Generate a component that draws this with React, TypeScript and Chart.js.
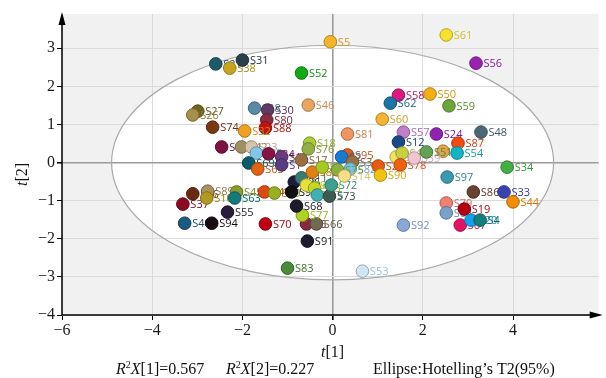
import React, { useEffect, useRef } from "react";
import { Chart, registerables } from "chart.js";

Chart.register(...registerables);

// ---- data ----
const sampleNames = [
  "S5", "S61", "S56", "S21", "S38", "S31", "S52", "S58", "S50", "S62",
  "S59", "S60", "S46", "S27", "S26", "S74", "S28", "S30", "S80", "S88",
  "S32", "S81", "S57", "S24", "S48", "S12", "S87", "S7", "S54", "S34",
  "S97", "S86", "S33", "S44", "S79", "S64", "S19", "S67", "S20", "S4",
  "S92", "S53", "S83", "S91", "S70", "S6", "S66", "S77", "S68", "S55",
  "S40", "S94", "S37", "S36", "S89", "S10", "S45", "S63", "S47", "S49",
  "S96", "S98", "S11", "S99", "S93", "S15", "S73", "S72", "S43", "S42",
  "S23", "S22", "S84", "S13", "S69", "S65", "S1", "S17", "S85", "S8",
  "S18", "S76", "S95", "S2", "S3", "S82", "S75", "S14", "S29", "S90",
  "S71", "S41", "S78", "S39", "S51"
];
const t1Scores = [
  -0.05, 2.52, 3.18, -2.59, -2.28, -2.0, -0.69, 1.46, 2.16, 1.28,
  2.58, 1.1, -0.54, -2.99, -3.1, -2.66, -1.73, -1.44, -1.46, -1.49,
  -1.95, 0.33, 1.57, 2.3, 3.29, 1.46, 2.78, 2.45, 2.76, 3.87,
  2.54, 3.12, 3.8, 4.0, 2.52, 2.52, 2.92, 2.83, 3.07, 3.27,
  1.57, 0.66, -1.0, -0.56, -1.49, -0.58, -0.36, -0.67, -0.8, -2.33,
  -3.28, -2.68, -3.32, -3.1, -2.77, -2.79, -2.13, -2.17, -1.51, -1.29,
  -0.85, -0.91, -0.69, -0.58, -0.4, -0.34, -0.07, -0.03, -2.46, -2.02,
  -1.8, -1.69, -1.42, -1.13, -1.86, -1.66, -1.13, -0.69, -0.45, -0.23,
  -0.51, -0.54, 0.33, 0.2, 0.44, 0.39, 0.11, 0.26, 1.01, 1.06,
  1.41, 1.54, 1.5, 1.81, 2.08
];
const t2Scores = [
  3.17, 3.35, 2.61, 2.59, 2.48, 2.69, 2.35, 1.77, 1.8, 1.56,
  1.49, 1.14, 1.51, 1.35, 1.25, 0.93, 1.43, 1.38, 1.12, 0.91,
  0.83, 0.75, 0.8, 0.75, 0.8, 0.54, 0.51, 0.3, 0.25, -0.12,
  -0.38, -0.77, -0.77, -1.03, -1.06, -1.32, -1.22, -1.64, -1.51, -1.51,
  -1.64, -2.85, -2.77, -2.06, -1.61, -1.61, -1.61, -1.38, -1.14, -1.3,
  -1.59, -1.59, -1.09, -0.82, -0.75, -0.93, -0.77, -0.93, -0.77, -0.8,
  -0.51, -0.77, -0.4, -0.59, -0.67, -0.85, -0.88, -0.59, 0.41, 0.41,
  0.41, 0.25, 0.23, 0.15, -0.01, -0.17, -0.06, 0.07, -0.25, -0.12,
  0.51, 0.36, 0.2, 0.15, 0.02, -0.17, -0.19, -0.35, -0.09, -0.33,
  0.15, 0.25, -0.06, 0.12, 0.28
];
const sampleColors = [
  "#F5B52A", "#F4E22C", "#9A22B0", "#1D5A68", "#C9A51C", "#283F4C", "#14A814", "#E0167E", "#F4AE14", "#1A74A4",
  "#6AA63A", "#F4B431", "#E8A55E", "#6E641A", "#A68F4A", "#7A3810", "#5A88A6", "#5E3A64", "#8A2C44", "#C01414",
  "#F0A022", "#F2945E", "#C07EC8", "#9222B2", "#4C6878", "#1C4A88", "#F24A12", "#E8A24E", "#10B6C6", "#44AE44",
  "#3C98B0", "#6A4232", "#3A42B2", "#F28C00", "#F08072", "#7AA2C8", "#B00012", "#E01462", "#12A2F0", "#14807E",
  "#88A8D8", "#CFE6F4", "#4A8A3A", "#1C1C2C", "#C00012", "#8A2A42", "#6E6A50", "#B2D222", "#1C1C2A", "#2A1C3C",
  "#1C5A82", "#1A0A12", "#8A0A22", "#6A2A12", "#A8925E", "#B09A22", "#8A9C2C", "#147A7A", "#E04A12", "#9AB022",
  "#1C1C3C", "#101010", "#3A7A70", "#E8E040", "#C8D822", "#40B0B0", "#3E5A4E", "#3EA08E", "#7A1242", "#A09062",
  "#D8C4A8", "#82C8E6", "#8A1242", "#6A3A7A", "#0C5A6C", "#E06212", "#5A3C82", "#9A7042", "#E08012", "#A8C822",
  "#A8D032", "#92B044", "#E05A1C", "#1A7AD2", "#9A7042", "#72C2E2", "#8AB042", "#F8DE84", "#E85A12", "#F2C212",
  "#F2E264", "#C8D042", "#F06012", "#F2C4D4", "#62A252"
];
const xTickValues = [-6, -4, -2, 0, 2, 4];
const yTickValues = [-4, -3, -2, -1, 0, 1, 2, 3];
const xRange = [-6, 5.9];
const yRange = [-4, 3.9];
const ellipseSemiAxes = [4.9, 3.08];
const r2xValues = ["0.567", "0.227"];

// ---- helpers ----
function shade(hex: string, f: number): string {
  const n = parseInt(hex.slice(1), 16);
  const r = Math.round(((n >> 16) & 255) * f);
  const g = Math.round(((n >> 8) & 255) * f);
  const b = Math.round((n & 255) * f);
  return `rgb(${r},${g},${b})`;
}
const fmt = (v: number) => (v < 0 ? "\u2212" + Math.abs(v) : String(v));
const SERIF = "'Liberation Serif', 'DejaVu Serif', serif";

const decorPlugin = {
  id: "decor",
  beforeDraw(chart: any) {
    const { ctx, chartArea: a, scales } = chart;
    const x = scales.x, y = scales.y;
    ctx.save();
    ctx.fillStyle = "#f1f1f1";
    ctx.fillRect(a.left, a.top, a.right - a.left, a.bottom - a.top);
    const cx = x.getPixelForValue(0), cy = y.getPixelForValue(0);
    const rx = x.getPixelForValue(ellipseSemiAxes[0]) - cx;
    const ry = cy - y.getPixelForValue(ellipseSemiAxes[1]);
    ctx.beginPath();
    ctx.ellipse(cx, cy, rx, ry, 0, 0, Math.PI * 2);
    ctx.fillStyle = "#ffffff";
    ctx.fill();
    ctx.restore();
  },
  beforeDatasetsDraw(chart: any) {
    const { ctx, chartArea: a, scales } = chart;
    const x = scales.x, y = scales.y;
    ctx.save();
    const cx = x.getPixelForValue(0), cy = y.getPixelForValue(0);
    const rx = x.getPixelForValue(ellipseSemiAxes[0]) - cx;
    const ry = cy - y.getPixelForValue(ellipseSemiAxes[1]);
    ctx.beginPath();
    ctx.ellipse(cx, cy, rx, ry, 0, 0, Math.PI * 2);
    ctx.strokeStyle = "#a9a9a9";
    ctx.lineWidth = 1.2;
    ctx.stroke();
    // axes
    ctx.strokeStyle = "#000";
    ctx.fillStyle = "#000";
    ctx.lineWidth = 1.5;
    ctx.beginPath();
    ctx.moveTo(a.left, a.bottom);
    ctx.lineTo(a.left, a.top + 4);
    ctx.moveTo(a.left, a.bottom);
    ctx.lineTo(a.right - 2, a.bottom);
    ctx.stroke();
    ctx.beginPath();
    ctx.moveTo(a.left, a.top - 2);
    ctx.lineTo(a.left - 3.5, a.top + 11);
    ctx.lineTo(a.left + 3.5, a.top + 11);
    ctx.closePath();
    ctx.fill();
    ctx.beginPath();
    ctx.moveTo(a.right + 4, a.bottom);
    ctx.lineTo(a.right - 9, a.bottom - 3.5);
    ctx.lineTo(a.right - 9, a.bottom + 3.5);
    ctx.closePath();
    ctx.fill();
    ctx.restore();
  },
  afterDatasetDraw(chart: any, args: any) {
    const i = args.meta.data.length ? (args.meta as any)._dataset?.sampleIndex : undefined;
    if (i === undefined) return;
    const pt = args.meta.data[0];
    const ctx = chart.ctx;
    ctx.save();
    ctx.font = "11px 'Open Sans', 'Noto Sans', sans-serif";
    ctx.textBaseline = "middle";
    ctx.textAlign = "left";
    const c = sampleColors[i];
    ctx.fillStyle = i === 41 ? "#9cc0d6" : shade(c, 0.85);
    ctx.fillText(sampleNames[i], pt.x + 7.5, pt.y + 1);
    ctx.restore();
  },
  afterDraw(chart: any) {
    const { ctx, chartArea: a } = chart;
    ctx.save();
    ctx.fillStyle = "#111";
    ctx.textBaseline = "alphabetic";
    // x title t[1]
    const drawSeq = (parts: [string, string, number][], x0: number, yb: number) => {
      let xx = x0;
      for (const [txt, font, dy] of parts) {
        ctx.font = font;
        ctx.fillText(txt, xx, yb + dy);
        xx += ctx.measureText(txt).width;
      }
      return xx;
    };
    const measureSeq = (parts: [string, string, number][]) => {
      let w = 0;
      for (const [txt, font] of parts) {
        ctx.font = font;
        w += ctx.measureText(txt).width;
      }
      return w;
    };
    const it = `italic 16px ${SERIF}`;
    const rg = `16px ${SERIF}`;
    const sm = `10px ${SERIF}`;
    const t1: [string, string, number][] = [["t", it, 0], ["[1]", rg, 0]];
    const cx = chart.scales.x.getPixelForValue(0);
    drawSeq(t1, cx - measureSeq(t1) / 2, 357);
    // R2X texts
    const r1: [string, string, number][] = [["R", it, 0], ["2", sm, -6], ["X", it, 0], ["[1]=" + r2xValues[0], rg, 0]];
    const r2: [string, string, number][] = [["R", it, 0], ["2", sm, -6], ["X", it, 0], ["[2]=" + r2xValues[1], rg, 0]];
    drawSeq(r1, 116, 374);
    drawSeq(r2, 226, 374);
    ctx.font = rg;
    ctx.fillText("Ellipse:Hotelling\u2019s T2(95%)", 373, 374);
    // y title t[2]
    ctx.translate(27, (a.top + a.bottom) / 2 + 10);
    ctx.rotate(-Math.PI / 2);
    const t2: [string, string, number][] = [["t", it, 0], ["[2]", rg, 0]];
    drawSeq(t2, -measureSeq(t2) / 2, 0);
    ctx.restore();
  },
};

export default function App() {
  const ref = useRef<HTMLCanvasElement | null>(null);
  useEffect(() => {
    if (!ref.current) return;
    const order = sampleNames.map((_, i) => i).reverse();
    const datasets = order.map((i) => ({
      label: sampleNames[i],
      sampleIndex: i,
      data: [{ x: t1Scores[i], y: t2Scores[i] }],
      backgroundColor: sampleColors[i],
      borderColor: shade(sampleColors[i], 0.72),
      borderWidth: 1,
      pointRadius: 6.3,
      pointHoverRadius: 6.3,
    }));
    const gridColor = (c: any) => (c.tick && c.tick.value === 0 ? "#9c9c9c" : "#dadada");
    const gridWidth = (c: any) => (c.tick && c.tick.value === 0 ? 1.6 : 1);
    const chart = new Chart(ref.current, {
      type: "scatter",
      data: { datasets: datasets as any },
      plugins: [decorPlugin as any],
      options: {
        responsive: false,
        animation: false,
        devicePixelRatio: 1,
        layout: { padding: { top: 14, right: 6, left: 0, bottom: 0 } },
        plugins: { legend: { display: false }, tooltip: { enabled: false } },
        scales: {
          x: {
            type: "linear",
            min: xRange[0],
            max: xRange[1],
            afterBuildTicks: (s: any) => {
              s.ticks = xTickValues.map((v) => ({ value: v }));
            },
            afterFit: (s: any) => {
              s.height = 63;
            },
            grid: { color: gridColor, lineWidth: gridWidth, tickColor: "#000", tickLength: 5, drawTicks: true },
            border: { display: false },
            ticks: {
              autoSkip: false,
              maxRotation: 0,
              padding: 1,
              color: "#1a1a1a",
              font: { family: SERIF, size: 16 },
              callback: (v: any) => fmt(Number(v)),
            },
          },
          y: {
            type: "linear",
            min: yRange[0],
            max: yRange[1],
            afterBuildTicks: (s: any) => {
              s.ticks = yTickValues.map((v) => ({ value: v }));
            },
            afterFit: (s: any) => {
              s.width = 62;
            },
            grid: { color: gridColor, lineWidth: gridWidth, tickColor: "#000", tickLength: 5, drawTicks: true },
            border: { display: false },
            ticks: {
              autoSkip: false,
              padding: 2,
              color: "#1a1a1a",
              font: { family: SERIF, size: 16 },
              callback: (v: any) => fmt(Number(v)),
            },
          },
        },
      } as any,
    });
    return () => chart.destroy();
  }, []);
  return (
    <div style={{ position: "absolute", left: 0, top: 0, width: 606, height: 378, background: "#fff" }}>
      <canvas ref={ref} width={606} height={378} style={{ display: "block" }} />
    </div>
  );
}
